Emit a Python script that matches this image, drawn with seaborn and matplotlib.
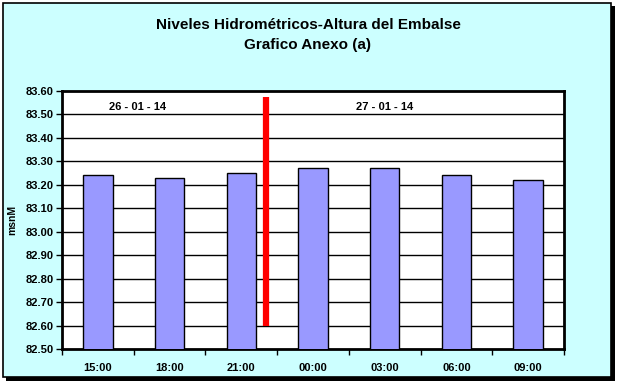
import matplotlib
matplotlib.use("Agg")
import matplotlib.pyplot as plt
import matplotlib.patches as mpatches
import seaborn as sns
import pandas as pd
import numpy as np

hours = ["15:00", "18:00", "21:00", "00:00", "03:00", "06:00", "09:00"]
levels = [83.24, 83.23, 83.25, 83.27, 83.27, 83.24, 83.22]
date_labels = ["26 - 01 - 14", "27 - 01 - 14"]
yticks = [82.50, 82.60, 82.70, 82.80, 82.90, 83.00, 83.10, 83.20, 83.30, 83.40, 83.50, 83.60]

sns.set_style("white")
plt.rcParams['font.family'] = ['Liberation Sans', 'DejaVu Sans']
plt.rcParams['text.color'] = 'black'
plt.rcParams['xtick.color'] = 'black'
plt.rcParams['ytick.color'] = 'black'
plt.rcParams['axes.labelcolor'] = 'black'

df = pd.DataFrame({"hora": hours, "nivel": levels})

fig = plt.figure(figsize=(6.2, 3.85), dpi=100)
bg = "#CCFFFF"
fig.patch.set_facecolor("white")
W, H = 620, 385
# shadow and frame
fig.patches.append(mpatches.Rectangle((6 / W, 1 - 381 / H), 609 / W, 375 / H,
                                      transform=fig.transFigure, facecolor="black",
                                      edgecolor="none", zorder=-2))
fig.patches.append(mpatches.Rectangle((3 / W, 1 - 377 / H), 608 / W, 374 / H,
                                      transform=fig.transFigure, facecolor=bg,
                                      edgecolor="black", linewidth=1.2, zorder=-1))

ax = fig.add_axes([62 / W, 1 - 349 / H, 502 / W, 258 / H])
ax.set_zorder(1)
ax.set_facecolor("white")
sns.barplot(data=df, x="hora", y="nivel", color="#9999FF", width=0.41,
            edgecolor="black", linewidth=1.0, ax=ax, zorder=3, saturation=1)
ax.set_ylim(82.50, 83.60)
ax.set_xlim(-0.5, len(hours) - 0.5)
ax.set_yticks(yticks)
ax.set_yticklabels([f"{v:.2f}" for v in yticks], fontsize=8, fontweight="bold")
ax.set_xticks(np.arange(len(hours)))
ax.set_xticklabels(hours, fontsize=8, fontweight="bold")
ax.set_xticks(np.arange(len(hours) + 1) - 0.5, minor=True)
ax.tick_params(axis="x", which="major", length=0, pad=10)
ax.tick_params(axis="x", which="minor", length=4, width=1, direction="out", bottom=True)
ax.tick_params(axis="y", length=4, width=1, direction="out", left=True, pad=2)
for y in yticks[1:-1]:
    ax.axhline(y, color="black", linewidth=1.0, zorder=1)
for s in ax.spines.values():
    s.set_color("black")
    s.set_linewidth(2.0)
ax.set_xlabel("")
ax.set_ylabel("msnM", fontsize=7.5, fontweight="bold", labelpad=6)

# divider line between days
ax.plot([2.35, 2.35], [82.60, 83.575], color="#FF0000", linewidth=4.5, zorder=4,
        solid_capstyle="butt")
ax.text(0.55, 83.53, date_labels[0], ha="center", va="center", fontsize=8,
        fontweight="bold", zorder=5)
ax.text(4.0, 83.53, date_labels[1], ha="center", va="center", fontsize=8,
        fontweight="bold", zorder=5)

fig.text(308 / W, 1 - 25 / H, "Niveles Hidrométricos-Altura del Embalse", ha="center",
         va="center", fontsize=11, fontweight="bold")
fig.text(308 / W, 1 - 45 / H, "Grafico Anexo (a)", ha="center", va="center",
         fontsize=11, fontweight="bold")

fig.savefig("out.png", dpi=100, facecolor=fig.get_facecolor())
